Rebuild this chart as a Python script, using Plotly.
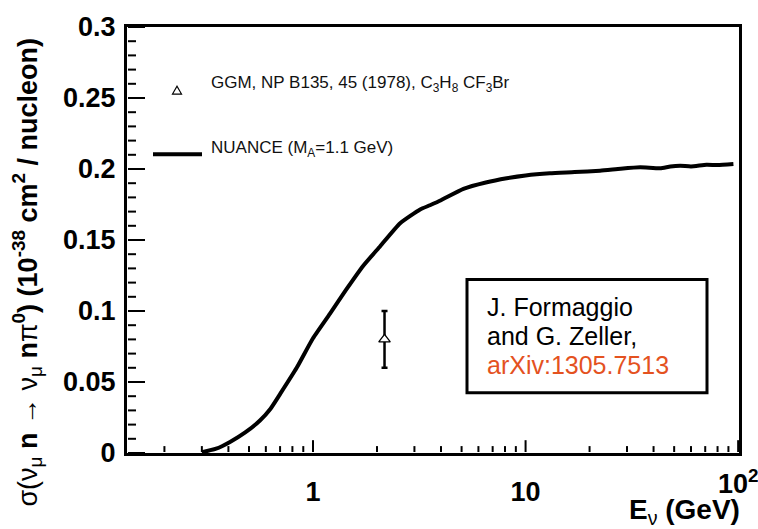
import math
import plotly.graph_objects as go

# NUANCE prediction: sigma(nu_mu n -> nu_mu n pi0) per nucleon vs neutrino energy
energy_gev = [0.30, 0.35, 0.407, 0.48, 0.563, 0.63, 0.70, 0.838, 1.0, 1.2, 1.44,
              1.72, 2.07, 2.57, 3.19, 3.55, 4.0, 5.1, 6.5, 8.15, 10, 13, 17, 22.4,
              28, 34.6, 43, 48, 53.4, 60, 71, 80, 95]
xsec_nuance = [0.0005, 0.003, 0.0078, 0.0145, 0.0229, 0.031, 0.0415, 0.060, 0.0808,
               0.098, 0.1155, 0.1317, 0.1456, 0.1618, 0.1715, 0.1745, 0.178, 0.186,
               0.1905, 0.1935, 0.1955, 0.197, 0.1978, 0.1988, 0.2002, 0.2012, 0.2005,
               0.2018, 0.2023, 0.2018, 0.203, 0.2028, 0.2035]

# GGM measurement (NP B135, 45 (1978))
ggm_energy = [2.17]
ggm_xsec = [0.08]
ggm_err = [0.02]

y_ticks = [0, 0.05, 0.1, 0.15, 0.2, 0.25, 0.3]
y_labels = ["0", "0.05", "0.1", "0.15", "0.2", "0.25", "0.3"]
y_minor = [i / 100 for i in range(1, 30) if i % 5]
x_ticks = [1, 10, 100]
x_labels = ["1", "10", "10<sup>2</sup>"]
x_minor = [0.2, 0.3, 0.4, 0.5, 0.6, 0.7, 0.8, 0.9,
           2, 3, 4, 5, 6, 7, 8, 9, 20, 30, 40, 50, 60, 70, 80, 90]

X_RANGE_LOG = [-0.875, 2.004]
Y_RANGE = [0, 0.3]

FONT = "Liberation Sans, Arial, Helvetica, sans-serif"
W, H = 758, 529
L, R, T, B = 127, 739, 21, 453   # frame edges in pixels


def px(x):
    return (x - L) / (R - L)


def py(y):
    return (B - y) / (B - T)


def xfrac(v):
    return (math.log10(v) - X_RANGE_LOG[0]) / (X_RANGE_LOG[1] - X_RANGE_LOG[0])


def yfrac(v):
    return (v - Y_RANGE[0]) / (Y_RANGE[1] - Y_RANGE[0])


fig = go.Figure()

fig.add_trace(go.Scatter(
    x=energy_gev, y=xsec_nuance, mode="lines",
    line=dict(color="black", width=4, shape="spline", smoothing=0.5),
    showlegend=False))

fig.add_trace(go.Scatter(
    x=ggm_energy, y=ggm_xsec, mode="markers",
    marker=dict(symbol="triangle-up", size=10, color="white",
                line=dict(color="black", width=1.3)),
    error_y=dict(type="data", array=ggm_err, color="black", thickness=2.5, width=3),
    showlegend=False))

shapes = []

# inward tick marks along the bottom edge (energy)
for v, ln in [(v, 13) for v in x_ticks] + [(v, 7) for v in x_minor]:
    f = xfrac(v)
    shapes.append(dict(type="line", xref="paper", yref="paper",
                       x0=f, x1=f, y0=py(B - 1), y1=py(B - ln),
                       line=dict(color="black", width=2)))
# inward tick marks along the left edge (cross section)
for v, ln in [(v, 18) for v in y_ticks] + [(v, 9) for v in y_minor]:
    f = yfrac(v)
    shapes.append(dict(type="line", xref="paper", yref="paper",
                       x0=px(L + 1), x1=px(L + ln), y0=f, y1=f,
                       line=dict(color="black", width=2)))

# legend symbols (open triangle and thick line sample)
tri_cx, tri_cy, tri_w, tri_h = 177, 85, 9, 8
tri_path = "M {} {} L {} {} L {} {} Z".format(
    px(tri_cx - tri_w / 2), py(tri_cy + tri_h / 2),
    px(tri_cx + tri_w / 2), py(tri_cy + tri_h / 2),
    px(tri_cx), py(tri_cy - tri_h / 2))

shapes += [
    dict(type="path", xref="paper", yref="paper", path=tri_path,
         line=dict(color="black", width=1.2), fillcolor="white"),
    dict(type="line", xref="paper", yref="paper",
         x0=px(153), x1=px(202), y0=py(150), y1=py(150),
         line=dict(color="black", width=4)),
    dict(type="rect", xref="paper", yref="paper",
         x0=px(467), x1=px(707), y0=py(277), y1=py(392),
         line=dict(color="black", width=3), fillcolor="white", layer="above"),
]

annotations = [
    dict(x=px(209), y=py(79), text="GGM, NP B135, 45 (1978), C<sub>3</sub>H<sub>8</sub> CF<sub>3</sub>Br",
         font=dict(size=17, color="#111111"), xanchor="left"),
    dict(x=px(209), y=py(145), text="NUANCE (M<sub>A</sub>=1.1 GeV)",
         font=dict(size=17, color="#111111"), xanchor="left"),
    dict(x=px(485), y=py(305), text="J. Formaggio",
         font=dict(size=25), xanchor="left"),
    dict(x=px(485), y=py(334), text="and G. Zeller,",
         font=dict(size=25), xanchor="left"),
    dict(x=px(485), y=py(364), text="arXiv:1305.7513",
         font=dict(size=25, color="#e4521f"), xanchor="left"),
    dict(x=px(742), y=py(512), text="<b>E</b><sub>ν</sub><b> (GeV)</b>",
         font=dict(size=28), xanchor="right"),
    dict(x=px(27), y=py(270), textangle=-90, xanchor="center",
         text=("σ(ν<sub>μ</sub> <b>n</b> → ν<sub>μ</sub> <b>n</b>π<sup><b>0</b></sup><b>)</b> "
               "<b>(10<sup>-38</sup> cm<sup>2</sup> / nucleon)</b>"),
         font=dict(size=27)),
    # last decade label sits on the frame edge, so it is placed by hand
    dict(x=xfrac(x_ticks[-1]), y=py(482), text="<b>" + x_labels[-1] + "</b>",
         font=dict(size=27), xanchor="center"),
]
for a in annotations:
    a.update(xref="paper", yref="paper", showarrow=False, yanchor="middle")

fig.update_layout(
    width=W, height=H,
    margin=dict(l=L, r=W - R, t=T, b=H - B),
    paper_bgcolor="white", plot_bgcolor="white",
    font=dict(family=FONT, color="black"),
    xaxis=dict(
        type="log", range=X_RANGE_LOG,
        showline=True, linewidth=3, linecolor="black", mirror=True,
        showgrid=False, zeroline=False,
        ticks="outside", ticklen=13, tickcolor="rgba(0,0,0,0)",
        tickmode="array", tickvals=x_ticks[:-1], ticktext=x_labels[:-1],
        tickfont=dict(size=27, weight="bold"),
    ),
    yaxis=dict(
        range=Y_RANGE,
        showline=True, linewidth=3, linecolor="black", mirror=True,
        showgrid=False, zeroline=False,
        ticks="outside", ticklen=3, tickcolor="rgba(0,0,0,0)",
        tickmode="array", tickvals=y_ticks, ticktext=y_labels,
        tickfont=dict(size=27, weight="bold"),
    ),
    shapes=shapes,
    annotations=annotations,
)

fig.write_html("out.html")
